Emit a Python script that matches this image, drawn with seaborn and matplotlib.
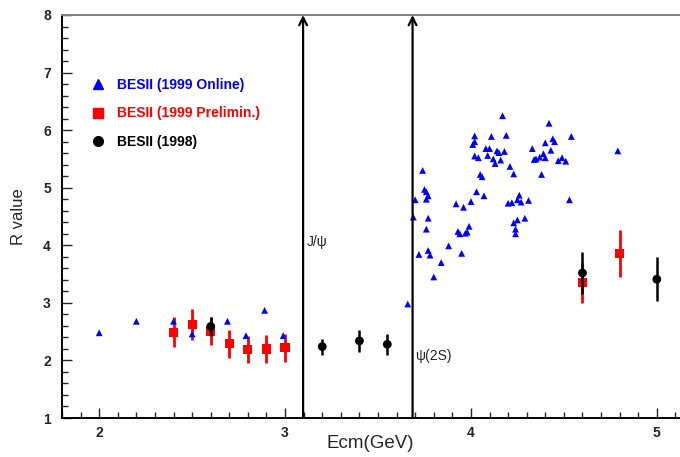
import numpy as np
import pandas as pd
import matplotlib
matplotlib.use("Agg")
import matplotlib.pyplot as plt
import matplotlib.ticker as mticker
from matplotlib.lines import Line2D
import seaborn as sns

# ── Data ───────────────────────────────────────────────────────────────────
online_e = [2.00, 2.20, 2.40, 2.50, 2.69, 2.79, 2.89, 2.99, 3.66,
            4.17, 4.42, 4.02, 4.11, 4.19, 4.44, 4.45, 4.40, 4.02, 4.01,
            4.08, 4.10, 4.14, 4.15, 4.18, 4.33, 4.43, 4.09, 4.02, 4.04,
            4.12, 4.16, 4.13, 4.39, 4.37, 4.40, 4.35, 4.34, 4.49, 4.47,
            4.51, 4.21, 4.23, 4.38, 4.05, 4.06, 3.74, 3.75, 3.76, 3.77,
            3.76, 3.70, 4.03, 4.07, 4.00, 3.92, 3.96, 4.26, 4.25, 4.27,
            4.22, 4.20, 4.31, 4.53, 3.69, 3.77, 3.76, 3.99, 3.93, 3.94,
            3.97, 3.98, 4.25, 4.23, 4.29, 4.24, 4.24, 3.88, 3.77, 3.78,
            3.72, 3.95, 3.84, 3.80, 4.54, 4.79]
online_r = [2.48, 2.68, 2.68, 2.46, 2.68, 2.43, 2.87, 2.43, 2.98,
            6.25, 6.12, 5.90, 5.89, 5.91, 5.85, 5.80, 5.78, 5.80, 5.75,
            5.68, 5.68, 5.64, 5.61, 5.63, 5.68, 5.65, 5.56, 5.55, 5.52,
            5.50, 5.48, 5.42, 5.59, 5.53, 5.52, 5.50, 5.49, 5.52, 5.47,
            5.46, 5.37, 5.24, 5.23, 5.23, 5.19, 5.30, 4.97, 4.93, 4.86,
            4.80, 4.79, 4.93, 4.86, 4.76, 4.72, 4.66, 4.87, 4.79, 4.75,
            4.74, 4.73, 4.78, 4.79, 4.49, 4.47, 4.28, 4.33, 4.24, 4.20,
            4.21, 4.23, 4.44, 4.39, 4.47, 4.28, 4.20, 3.99, 3.91, 3.83,
            3.84, 3.86, 3.70, 3.45, 5.89, 5.64]

prelim_e = [2.40, 2.50, 2.60, 2.70, 2.80, 2.90, 3.00, 4.60, 4.80]
prelim_r = [2.49, 2.62, 2.51, 2.29, 2.19, 2.20, 2.22, 3.35, 3.86]
prelim_err = [0.26, 0.27, 0.25, 0.24, 0.24, 0.24, 0.24, 0.36, 0.41]

besii98_e = [2.60, 3.20, 3.40, 3.55, 4.60, 5.00]
besii98_r = [2.59, 2.24, 2.34, 2.28, 3.52, 3.41]
besii98_err = [0.17, 0.14, 0.19, 0.18, 0.37, 0.38]

resonances = [3.097, 3.686]
resonance_labels = ["J/\u03c8", "\u03c8(2S)"]
label_pos = [(3.115, 4.05), (3.70, 2.08)]

legend_labels = ["BESII (1999 Online)", "BESII (1999 Prelimin.)", "BESII (1998)"]
colors = ["#0000ff", "#ff0000", "#000000"]

# ── Style ─────────────────────────────────────────────────────────────────
sns.set_style("ticks")
plt.rcParams["font.family"] = ["Liberation Sans", "DejaVu Sans"]

fig = plt.figure(figsize=(6.8, 4.57), dpi=100)
ax = fig.add_axes([62 / 680, 39 / 457, 632 / 680, 403 / 457])

online = pd.DataFrame({"E": online_e, "R": online_r})
prelim = pd.DataFrame({"E": prelim_e, "R": prelim_r, "err": prelim_err})
old = pd.DataFrame({"E": besii98_e, "R": besii98_r, "err": besii98_err})

# red: 1999 preliminary
ax.errorbar(prelim["E"], prelim["R"], yerr=prelim["err"], fmt="none",
            ecolor=colors[1], elinewidth=2.0, capsize=0, zorder=2)
sns.scatterplot(data=prelim, x="E", y="R", ax=ax, marker="s", s=44,
                color=colors[1], edgecolor="none", zorder=3)

# blue: 1999 online
sns.scatterplot(data=online, x="E", y="R", ax=ax, marker="^", s=24,
                color=colors[0], edgecolor="none", zorder=4)

# black: 1998
ax.errorbar(old["E"], old["R"], yerr=old["err"], fmt="none",
            ecolor=colors[2], elinewidth=1.8, capsize=0, zorder=5)
sns.scatterplot(data=old, x="E", y="R", ax=ax, marker="o", s=40,
                color=colors[2], edgecolor="none", zorder=6)

# resonance arrows
for xr, lab, (tx, ty) in zip(resonances, resonance_labels, label_pos):
    ax.annotate("", xy=(xr, 8.0), xytext=(xr, 1.0),
                arrowprops=dict(arrowstyle="->", lw=1.6, color="black",
                                mutation_scale=14, shrinkA=0, shrinkB=0),
                zorder=7)
    ax.text(tx, ty, lab, fontsize=10, va="center", ha="left")

ax.set_xlim(1.8, 5.2)
ax.set_ylim(1, 8)
ax.set_xlabel("Ecm(GeV)", fontsize=13.5)
ax.xaxis.set_label_coords(0.487, -0.042)
ax.set_ylabel("R value", fontsize=12, labelpad=12)
ax.xaxis.set_major_locator(mticker.MultipleLocator(1))
ax.xaxis.set_minor_locator(mticker.MultipleLocator(0.1))
ax.yaxis.set_major_locator(mticker.MultipleLocator(1))
ax.yaxis.set_minor_locator(mticker.MultipleLocator(0.2))
ax.tick_params(which="both", direction="in", top=False, right=False,
               labelsize=10, width=1)
ax.tick_params(which="major", length=7, pad=8)
ax.tick_params(which="minor", length=4)
ax.tick_params(axis="x", which="major", pad=6)
for lbl in ax.get_xticklabels() + ax.get_yticklabels():
    lbl.set_fontweight("bold")

for side in ["left", "bottom"]:
    ax.spines[side].set_color("black")
    ax.spines[side].set_linewidth(1.4)
ax.spines["top"].set_color("#808080")
ax.spines["top"].set_linewidth(1.4)
ax.spines["right"].set_visible(False)

handles = [
    Line2D([], [], marker="^", color=colors[0], ls="none", ms=7),
    Line2D([], [], marker="s", color=colors[1], ls="none", ms=7),
    Line2D([], [], marker="o", color=colors[2], ls="none", ms=7),
]
leg = ax.legend(handles, legend_labels, loc="upper left",
                bbox_to_anchor=(0.026, 0.875), frameon=False,
                prop={"weight": "bold", "size": 10}, labelcolor=colors,
                labelspacing=1.05, handletextpad=0.9, handlelength=1.0)

fig.savefig("out.png", dpi=100)
